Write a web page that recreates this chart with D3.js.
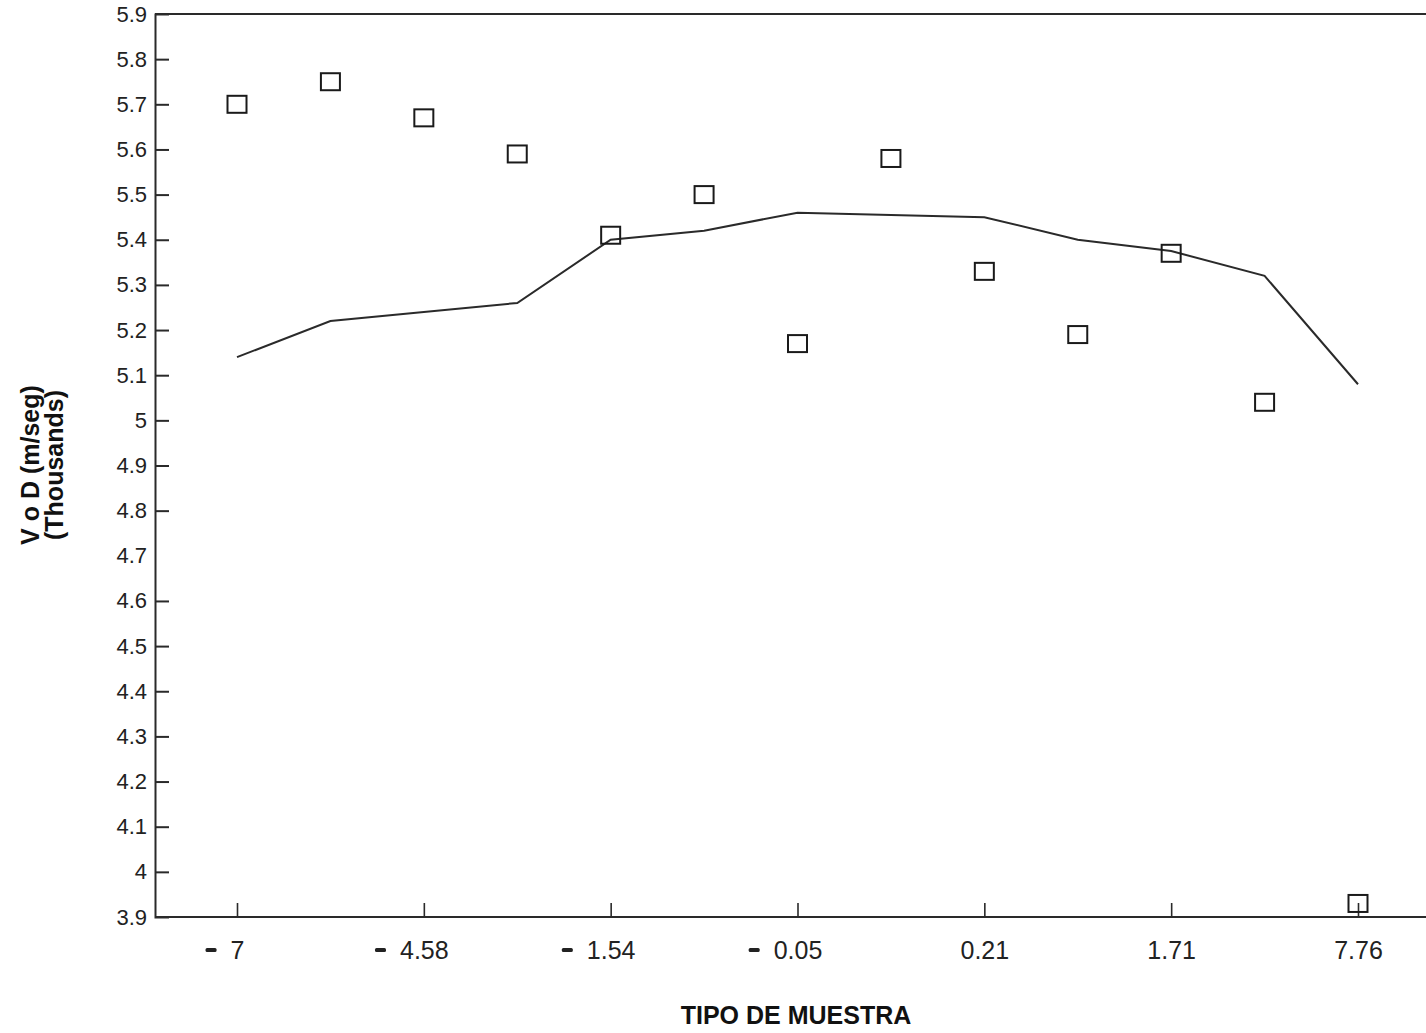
<!DOCTYPE html>
<html><head><meta charset="utf-8">
<script src="https://cdn.jsdelivr.net/npm/d3@7"></script>
<style>body{margin:0;background:#fff}svg{display:block}text{font-family:Arial,"Liberation Sans",sans-serif}</style>
</head><body>
<script>
const categories = ["-7","","-4.58","","-1.54","","-0.05","","0.21","","1.71","","7.76"];
const scatterValues = [5.70,5.75,5.67,5.59,5.41,5.50,5.17,5.58,5.33,5.19,5.37,5.04,3.93];
const lineValues = [5.14,5.22,5.24,5.26,5.40,5.42,5.46,5.455,5.45,5.40,5.375,5.32,5.08];
const yTicks = [3.9,4,4.1,4.2,4.3,4.4,4.5,4.6,4.7,4.8,4.9,5,5.1,5.2,5.3,5.4,5.5,5.6,5.7,5.8,5.9];

(function(){
const W=1426,H=1033;
const svg=d3.select("body").append("svg").attr("width",W).attr("height",H);
const pLeft=155, pTop=14, pBottom=917, pRight=1440;
const x=d3.scalePoint().domain(d3.range(categories.length)).range([237,1358]);
const y=d3.scaleLinear().domain([3.9,5.9]).range([pBottom,pTop]);
const ink="#2a2a2a";

svg.append("line").attr("x1",pLeft).attr("x2",pRight).attr("y1",pTop).attr("y2",pTop).attr("stroke",ink).attr("stroke-width",2);
svg.append("line").attr("x1",pLeft).attr("x2",pRight).attr("y1",pBottom).attr("y2",pBottom).attr("stroke",ink).attr("stroke-width",2);

const yAxis=d3.axisLeft(y).tickValues(yTicks).tickSize(-14).tickPadding(8).tickFormat(d=>d3.format("~g")(d));
const gy=svg.append("g").attr("transform",`translate(${pLeft},0)`).call(yAxis);
gy.attr("font-size",null).attr("font-family",null);
gy.select(".domain").attr("stroke",ink).attr("stroke-width",2);
gy.selectAll(".tick line").attr("stroke",ink).attr("stroke-width",2).attr("display",d=>(d===3.9||d===5.9||d===4.7)?"none":null);
gy.selectAll(".tick text").attr("font-size",22).attr("fill","#222");

const labelled=d3.range(categories.length).filter(i=>categories[i]!=="");
const xAxis=d3.axisBottom(x).tickValues(labelled).tickSize(-14).tickPadding(24)
  .tickFormat(i=>categories[i].replace(/^-/,""));
const gx=svg.append("g").attr("transform",`translate(0,${pBottom})`).call(xAxis);
gx.attr("font-size",null).attr("font-family",null);
gx.select(".domain").remove();
gx.selectAll(".tick line").attr("stroke",ink).attr("stroke-width",1.6);
gx.selectAll(".tick text").attr("font-size",25).attr("fill","#222");
// detached minus signs, as in the source
gx.selectAll(".tick").each(function(i){
  if(!categories[i].startsWith("-")) return;
  const t=d3.select(this).select("text");
  const w=t.node().getComputedTextLength();
  d3.select(this).append("rect")
    .attr("x",-w/2-14-11).attr("y",31).attr("width",11).attr("height",4)
    .attr("rx",1.5).attr("fill","#222");
});

svg.append("path").datum(lineValues)
 .attr("d",d3.line().x((d,i)=>x(i)).y(d=>y(d)))
 .attr("fill","none").attr("stroke",ink).attr("stroke-width",2);

svg.append("g").selectAll("rect").data(scatterValues).join("rect")
 .attr("x",(d,i)=>x(i)-9.5).attr("y",d=>y(d)-8.5).attr("width",19).attr("height",17)
 .attr("fill","none").attr("stroke","#1a1a1a").attr("stroke-width",2);

svg.append("text").attr("x",796).attr("y",1024).attr("text-anchor","middle")
 .attr("font-size",25).attr("font-weight","bold").attr("fill","#111").text("TIPO DE MUESTRA");
const yt=svg.append("text").attr("transform","translate(0,465) rotate(-90)").attr("text-anchor","middle")
 .attr("font-size",25).attr("font-weight","bold").attr("fill","#111");
yt.append("tspan").attr("x",0).attr("y",39).text("V o D (m/seg)");
yt.append("tspan").attr("x",0).attr("y",63).text("(Thousands)");
})();
</script>
</body></html>
